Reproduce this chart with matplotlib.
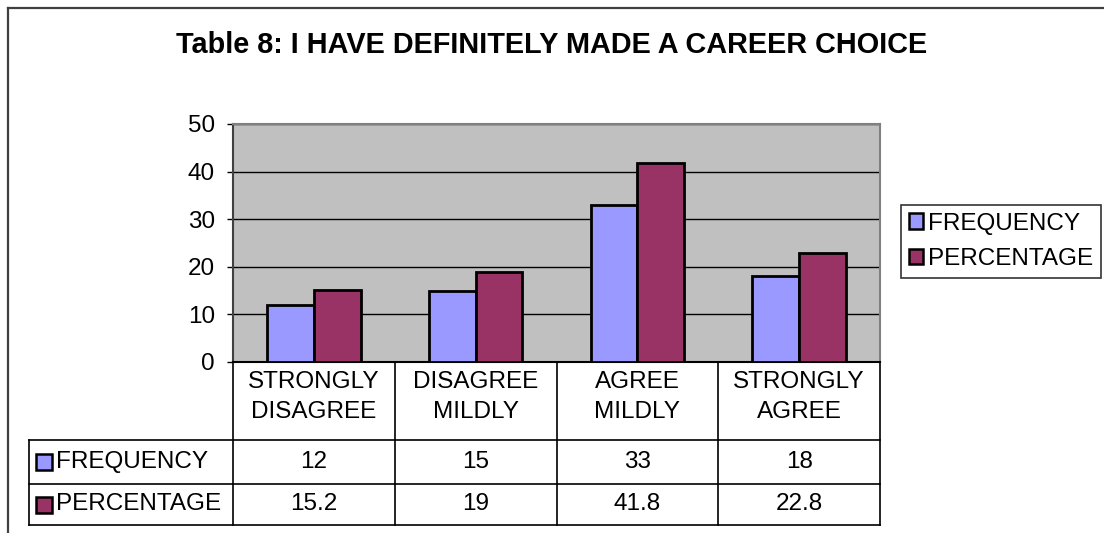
import numpy as np
import matplotlib
matplotlib.use("Agg")
import matplotlib.pyplot as plt
from matplotlib.lines import Line2D
from matplotlib.patches import Patch
import matplotlib.transforms as mtransforms

plt.rcParams['font.family'] = ['Liberation Sans', 'DejaVu Sans']

# data
categories = ["STRONGLY\nDISAGREE", "DISAGREE\nMILDLY", "AGREE\nMILDLY", "STRONGLY\nAGREE"]
frequency = [12, 15, 33, 18]
percentage = [15.2, 19, 41.8, 22.8]
freq_labels = ["12", "15", "33", "18"]
pct_labels = ["15.2", "19", "41.8", "22.8"]
series_names = ["FREQUENCY", "PERCENTAGE"]
colors = ["#9999FF", "#993366"]

W, H = 1104, 533
FS = 17.5
fig = plt.figure(figsize=(W / 100, H / 100), dpi=100)

# plot area in pixels
left, right, top, bottom = 233, 880, 124, 362
ax = fig.add_axes([left / W, 1 - bottom / H, (right - left) / W, (bottom - top) / H])
ax.set_facecolor("#C0C0C0")

x = np.arange(len(categories))
bw = 0.289
ax.bar(x - bw / 2, frequency, bw, color=colors[0], edgecolor="black", linewidth=2, zorder=3)
ax.bar(x + bw / 2, percentage, bw, color=colors[1], edgecolor="black", linewidth=2, zorder=3)

ax.set_xlim(-0.5, len(categories) - 0.5)
ax.set_ylim(0, 50)
ax.set_yticks(range(0, 51, 10))
ax.yaxis.grid(True, color="black", linewidth=1, zorder=1)
ax.set_axisbelow(True)
ax.tick_params(axis="y", length=4, width=1, pad=9, labelsize=FS, direction="out")
ax.set_xticks([])
for s in ["top", "right"]:
    ax.spines[s].set_color("#808080")
    ax.spines[s].set_linewidth(1.5)
ax.spines["left"].set_color("#404040")
ax.spines["left"].set_linewidth(1.5)
ax.spines["bottom"].set_color("black")
ax.spines["bottom"].set_linewidth(1.5)

# data table below the axes (x in data units, y in axes fraction)
trans = mtransforms.blended_transform_factory(ax.transData, ax.transAxes)
ph = bottom - top
def yf(py):
    return (bottom - py) / ph

row_cat, row_f, row_p = 440, 484, 525
cw = (right - left) / len(categories)
tab_left = -0.5 - (left - 29) / cw
lk = dict(color="black", linewidth=1.2, transform=trans, clip_on=False)

for b in np.arange(-0.5, len(categories), 1.0):
    ax.add_line(Line2D([b, b], [yf(bottom), yf(row_p)], **lk))
for r in [row_cat, row_f, row_p]:
    ax.add_line(Line2D([tab_left, len(categories) - 0.5], [yf(r), yf(r)], **lk))
ax.add_line(Line2D([tab_left, tab_left], [yf(row_cat), yf(row_p)], **lk))

for i, c in enumerate(categories):
    ax.text(i, yf(397), c, transform=trans, ha="center", va="center",
            fontsize=FS, linespacing=1.5, clip_on=False)
    ax.text(i, yf((row_cat + row_f) / 2), freq_labels[i], transform=trans, ha="center",
            va="center", fontsize=FS, clip_on=False)
    ax.text(i, yf((row_f + row_p) / 2), pct_labels[i], transform=trans, ha="center",
            va="center", fontsize=FS, clip_on=False)

mk_x = -0.5 - (left - 44) / cw
tx_x = -0.5 - (left - 56) / cw
for j, (name, col) in enumerate(zip(series_names, colors)):
    yc = yf((row_cat + row_f) / 2) if j == 0 else yf((row_f + row_p) / 2)
    ax.plot([mk_x], [yc], marker="s", markersize=11.5, markerfacecolor=col,
            markeredgecolor="black", markeredgewidth=1.8, transform=trans, clip_on=False)
    ax.text(tx_x, yc, name, transform=trans, ha="left", va="center", fontsize=FS, clip_on=False)

# legend
handles = [Patch(facecolor=c, edgecolor="black", linewidth=1.8) for c in colors]
leg = fig.legend(handles, series_names, loc="upper left",
                 bbox_to_anchor=(901 / W, 1 - 205 / H), borderaxespad=0,
                 fontsize=FS, frameon=True, fancybox=False, handlelength=0.6,
                 handleheight=0.6, handletextpad=0.2, borderpad=0.32, labelspacing=0.55)
leg.get_frame().set_edgecolor("black")
leg.get_frame().set_linewidth(1.2)

# title
fig.text(552 / W, 1 - 45 / H, "Table 8: I HAVE DEFINITELY MADE A CAREER CHOICE",
         ha="center", va="center", fontsize=20.8, fontweight="bold")

# outer frame (top and left edges)
fig.add_artist(Line2D([8 / W, 1], [1 - 8 / H, 1 - 8 / H], color="#404040", linewidth=1.6,
                      transform=fig.transFigure))
fig.add_artist(Line2D([8 / W, 8 / W], [0, 1 - 8 / H], color="#404040", linewidth=1.6,
                      transform=fig.transFigure))

fig.savefig("out.png", dpi=100)
